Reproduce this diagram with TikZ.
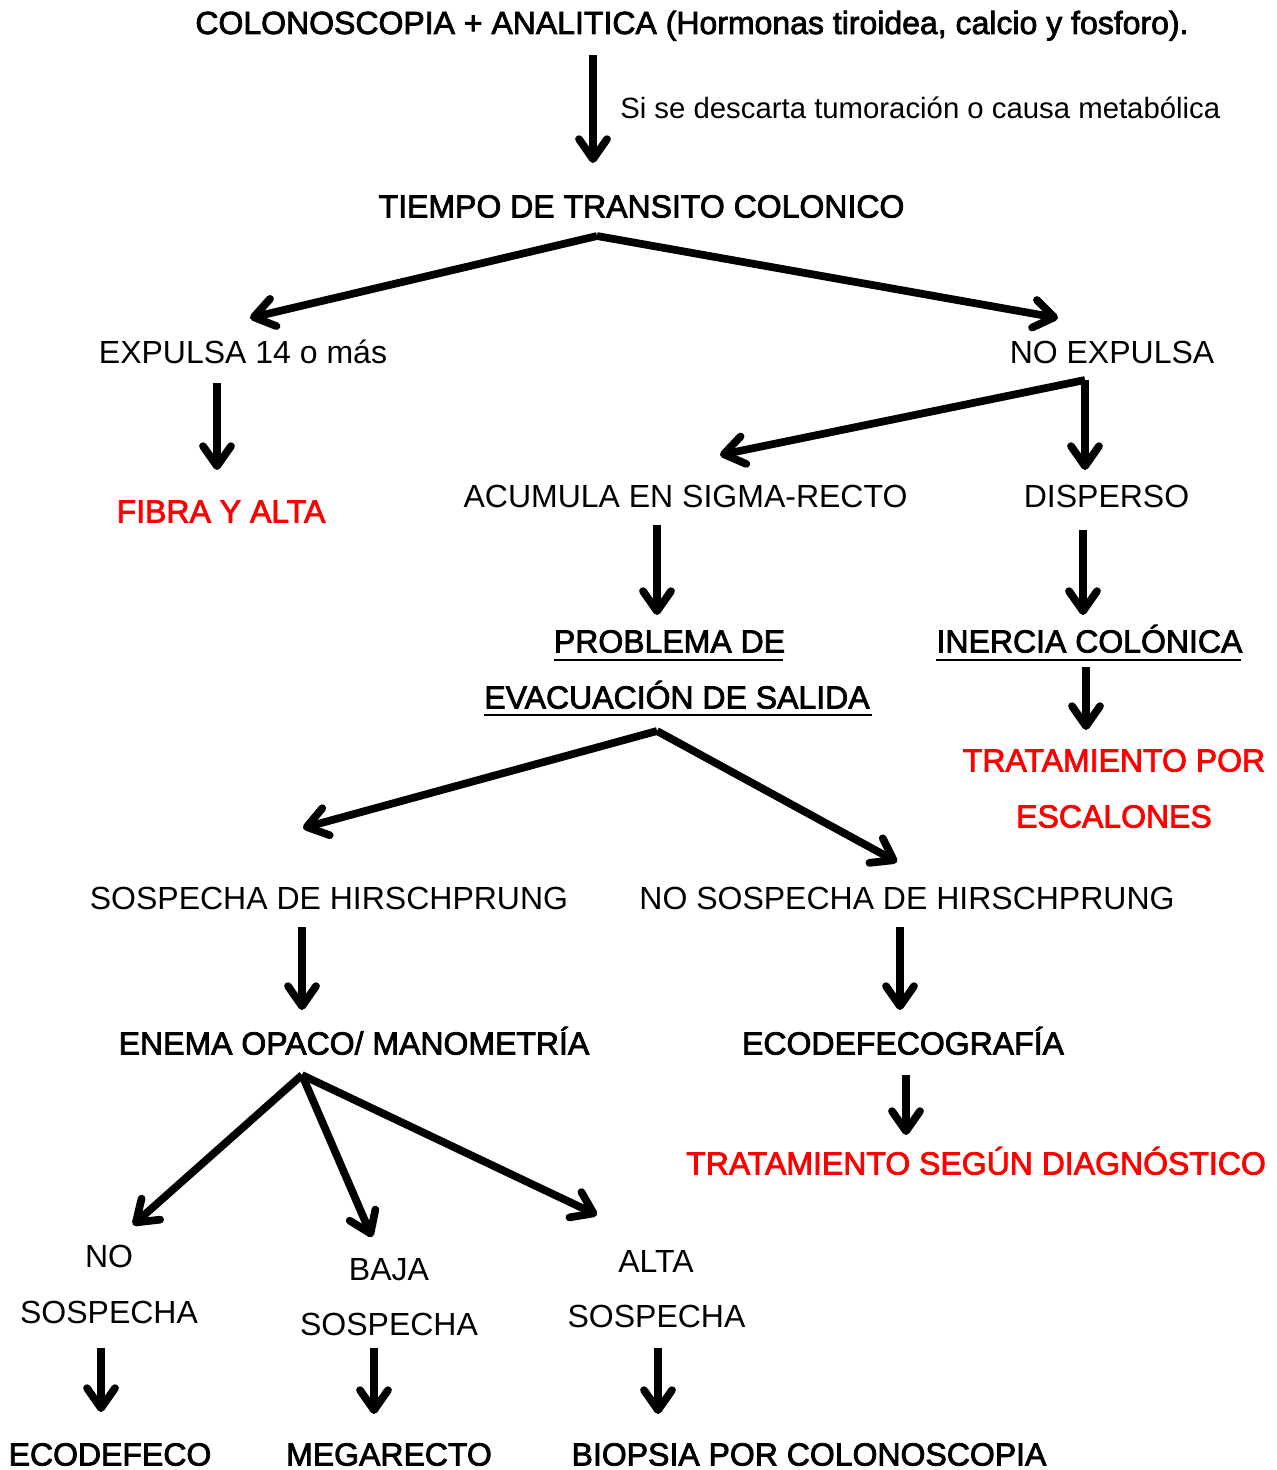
\documentclass[tikz,border=0pt]{standalone}
\usepackage{fontspec}
\setmainfont{Liberation Sans}
\newfontfamily\hvy[FakeBold=2.4]{Liberation Sans}
\usetikzlibrary{arrows.meta}
\definecolor{redtxt}{RGB}{255,0,0}
\begin{document}
\begin{tikzpicture}[x=0.75pt,y=-0.75pt,
  txt/.style={anchor=base,inner sep=0pt,font=\fontsize{24}{28}\selectfont},
  hv/.style={anchor=base,inner sep=0pt,font=\fontsize{24}{28}\selectfont\hvy},
  rd/.style={hv,text=redtxt},
  arr/.style={line width=5.8pt,line cap=butt,-{Straight Barb[length=15pt,width=21pt,round]}},
  uline/.style={line width=1.5pt}]
\useasboundingbox (0,0) rectangle (1277,1470);
% texts
\node[hv] (colono) at (692,34) {COLONOSCOPIA + ANALITICA (Hormonas tiroidea, calcio y fosforo).};
\node[anchor=base west,inner sep=0pt,font=\fontsize{22}{26}\selectfont] (lab) at (620,118.5) {Si se descarta tumoración o causa metabólica};
\node[hv] (tiempo) at (641.5,217.5) {TIEMPO DE TRANSITO COLONICO};
\node[txt] (expulsa) at (243,363) {EXPULSA 14 o más};
\node[txt] (noexp) at (1112,363) {NO EXPULSA};
\node[rd] (fibra) at (221,522.5) {FIBRA Y ALTA};
\node[txt] (acumula) at (685.5,507.5) {ACUMULA EN SIGMA-RECTO};
\node[txt] (disperso) at (1106.5,507.5) {DISPERSO};
\node[hv] (prob1) at (669.5,652.5) {PROBLEMA DE};
\node[hv] (prob2) at (677,708.5) {EVACUACIÓN DE SALIDA};
\node[hv] (inercia) at (1089.5,652.5) {INERCIA COLÓNICA};
\node[rd] (trat1) at (1114,771.5) {TRATAMIENTO POR};
\node[rd] (trat2) at (1114,827.5) {ESCALONES};
\node[txt] (sosp) at (329,909.5) {SOSPECHA DE HIRSCHPRUNG};
\node[txt] (nososp) at (907,909.5) {NO SOSPECHA DE HIRSCHPRUNG};
\node[hv] (enema) at (354,1054.5) {ENEMA OPACO/ MANOMETRÍA};
\node[hv] (ecograf) at (903,1054.5) {ECODEFECOGRAFÍA};
\node[rd] (tratdiag) at (976,1174.5) {TRATAMIENTO SEGÚN DIAGNÓSTICO};
\node[txt] (no1) at (109,1267.5) {NO};
\node[txt] (no2) at (109,1323.5) {SOSPECHA};
\node[txt] (baja1) at (389,1280.5) {BAJA};
\node[txt] (baja2) at (389,1335.5) {SOSPECHA};
\node[txt] (alta1) at (656,1272.5) {ALTA};
\node[txt] (alta2) at (656.5,1327.5) {SOSPECHA};
\node[hv] (ecodef) at (110,1465.5) {ECODEFECO};
\node[hv] (mega) at (389,1465.5) {MEGARECTO};
\node[hv] (biopsia) at (809,1465.5) {BIOPSIA POR COLONOSCOPIA};
% underlines
\draw[uline] (prob1.base west)++(0,7.5) -- ++(229,0);
\draw[uline] (prob2.base west)++(0,6.5) -- ++(388,0);
\draw[uline] (inercia.base west)++(0,7.5) -- ++(305,0);
% connector points
\coordinate (c1a) at (593,55);   \coordinate (c1b) at (593,163);
\coordinate (c2) at (597,236);   \coordinate (c2l) at (250,318); \coordinate (c2r) at (1058,318);
\coordinate (c3a) at (217,383);  \coordinate (c3b) at (217,470);
\coordinate (c4) at (1085,380);  \coordinate (c4l) at (720,455); \coordinate (c4d) at (1085,470);
\coordinate (c5a) at (657,525);  \coordinate (c5b) at (657,615);
\coordinate (c6a) at (1083,530); \coordinate (c6b) at (1083,615);
\coordinate (c7a) at (1086,667); \coordinate (c7b) at (1086,730);
\coordinate (c8) at (657,731);   \coordinate (c8l) at (303,828); \coordinate (c8r) at (897,862);
\coordinate (c9a) at (302,927);  \coordinate (c9b) at (302,1010);
\coordinate (c10a) at (900,927); \coordinate (c10b) at (900,1010);
\coordinate (c11a) at (906,1075);\coordinate (c11b) at (906,1135);
\coordinate (c12) at (302,1075); \coordinate (c12l) at (133,1225); \coordinate (c12m) at (372,1237); \coordinate (c12r) at (597,1215);
\coordinate (c13a) at (101,1348); \coordinate (c13b) at (101,1412);
\coordinate (c14a) at (374,1348); \coordinate (c14b) at (374,1414);
\coordinate (c15a) at (658,1348); \coordinate (c15b) at (658,1414);
% connectors
\draw[arr] (c1a) -- (c1b);
\draw[arr] (c2) -- (c2l);
\draw[arr] (c2) -- (c2r);
\draw[arr] (c3a) -- (c3b);
\draw[arr] (c4) -- (c4l);
\draw[arr] (c4) -- (c4d);
\draw[arr] (c5a) -- (c5b);
\draw[arr] (c6a) -- (c6b);
\draw[arr] (c7a) -- (c7b);
\draw[arr] (c8) -- (c8l);
\draw[arr] (c8) -- (c8r);
\draw[arr] (c9a) -- (c9b);
\draw[arr] (c10a) -- (c10b);
\draw[arr] (c11a) -- (c11b);
\draw[arr] (c12) -- (c12l);
\draw[arr] (c12) -- (c12m);
\draw[arr] (c12) -- (c12r);
\draw[arr] (c13a) -- (c13b);
\draw[arr] (c14a) -- (c14b);
\draw[arr] (c15a) -- (c15b);
\end{tikzpicture}
\end{document}
